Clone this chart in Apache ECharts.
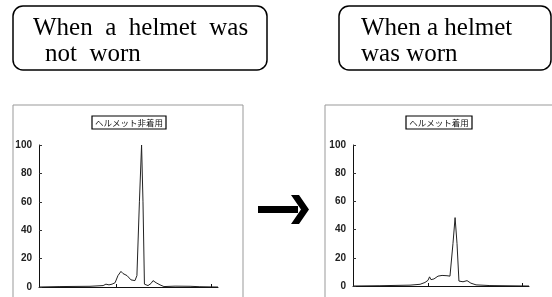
<!DOCTYPE html>
<html>
<head>
<meta charset="utf-8">
<style>
  html, body { margin: 0; padding: 0; background: #fff; }
  #chart { width: 552px; height: 297px; }
</style>
<script src="https://cdn.jsdelivr.net/npm/echarts@6/dist/echarts.min.js"></script>
</head>
<body>
<div id="chart"></div>
<script>
// y ticks (relative signal, %)
const yTicks = [0, 20, 40, 60, 80, 100]
// x positions are given as % of the time axis, tick marks at these spots
const xTickMarks = [43, 96]

// without helmet
const notWornX = [0, 11.7, 28.5, 35.8, 37.4, 39.1, 40.8, 42.5, 44.1, 45.8, 46.9, 48, 49.2, 50.3, 51.4, 52.5, 53.6, 54.7, 56.1, 57.3, 58.1, 58.9, 60.9, 62.6, 63.7, 65.4, 67.6, 69.8, 76, 84.4, 89.9, 100]
const notWornY = [0, 0.3, 0.5, 1, 2, 1.5, 2, 3, 8, 11, 9.5, 10, 8, 8.5, 5, 4, 4.5, 8, 60, 100, 60, 2, 1, 2.5, 4.5, 3, 1.5, 0.3, 0.6, 0.5, 0.2, 0]

// with helmet
const wornX = [0, 15.3, 32.4, 38.1, 40.9, 42.6, 43.5, 44.3, 46, 48.3, 50.6, 53.4, 55.1, 56.8, 58, 59.1, 60.2, 62.5, 64.8, 67, 69.9, 77.8, 100]
const wornY = [0, 0.2, 0.6, 1.2, 2.5, 4, 6.5, 4.5, 5, 7, 7.5, 7.3, 7, 30, 48.5, 30, 3.5, 3, 3.8, 2, 0.8, 0.3, 0]

const chart = echarts.init(document.getElementById('chart'))

function pairs(xs, ys) {
  return xs.map((x, i) => [x, ys[i]])
}

function makeX(idx) {
  return {
    type: 'value',
    gridIndex: idx,
    min: 0,
    max: 100,
    axisLine: { show: true, lineStyle: { color: '#111', width: 1 } },
    axisTick: { show: true, inside: true, length: 3, customValues: xTickMarks, lineStyle: { color: '#111' } },
    axisLabel: { show: false },
    splitLine: { show: false }
  }
}

function makeY(idx) {
  return {
    type: 'value',
    gridIndex: idx,
    min: 0,
    max: 100,
    interval: 20,
    axisLine: { show: true, lineStyle: { color: '#111', width: 1 } },
    axisTick: { show: true, inside: true, length: 3, lineStyle: { color: '#333' } },
    axisLabel: {
      color: '#222',
      fontSize: 10,
      fontWeight: 'bold',
      fontFamily: 'Liberation Sans, Arial, sans-serif',
      margin: 7,
      customValues: yTicks
    },
    splitLine: { show: false }
  }
}

const serif = 'Liberation Serif, Times New Roman, serif'
const jp = 'Noto Sans CJK JP, sans-serif'

const option = {
  animation: false,
  backgroundColor: '#fff',
  grid: [
    { left: 39, top: 145, width: 179, height: 142 },
    { left: 353, top: 145, width: 176, height: 141 }
  ],
  xAxis: [makeX(0), makeX(1)],
  yAxis: [makeY(0), makeY(1)],
  series: [
    {
      type: 'line',
      xAxisIndex: 0,
      yAxisIndex: 0,
      data: pairs(notWornX, notWornY),
      symbol: 'none',
      lineStyle: { color: '#222', width: 1 }
    },
    {
      type: 'line',
      xAxisIndex: 1,
      yAxisIndex: 1,
      data: pairs(wornX, wornY),
      symbol: 'none',
      lineStyle: { color: '#222', width: 1 }
    }
  ],
  graphic: [
    // caption boxes on top
    { type: 'rect', shape: { x: 13, y: 6, width: 254, height: 64, r: 10 }, style: { fill: 'none', stroke: '#000', lineWidth: 1.5 } },
    { type: 'text', x: 33, y: 28, style: { text: 'When  a  helmet  was', font: '25px ' + serif, fill: '#000', verticalAlign: 'middle' } },
    { type: 'text', x: 45, y: 54, style: { text: 'not  worn', font: '25px ' + serif, fill: '#000', verticalAlign: 'middle' } },
    { type: 'rect', shape: { x: 339, y: 6, width: 212, height: 64, r: 10 }, style: { fill: 'none', stroke: '#000', lineWidth: 1.5 } },
    { type: 'text', x: 361, y: 28, style: { text: 'When a helmet', font: '25px ' + serif, fill: '#000', verticalAlign: 'middle' } },
    { type: 'text', x: 361, y: 54, style: { text: 'was worn', font: '25px ' + serif, fill: '#000', verticalAlign: 'middle' } },

    // scanned panel frames
    { type: 'polyline', shape: { points: [[13, 297], [13, 105], [243, 105], [243, 297]] }, style: { fill: 'none', stroke: '#999', lineWidth: 1 } },
    { type: 'polyline', shape: { points: [[325, 297], [325, 105], [552, 105]] }, style: { fill: 'none', stroke: '#999', lineWidth: 1 } },

    // panel titles
    { type: 'rect', shape: { x: 92, y: 116, width: 74, height: 13 }, style: { fill: '#fff', stroke: '#000', lineWidth: 1.2 } },
    { type: 'text', x: 129, y: 122.5, style: { text: 'ヘルメット非着用', font: '8.5px ' + jp, fill: '#111', align: 'center', verticalAlign: 'middle' } },
    { type: 'rect', shape: { x: 406, y: 116, width: 66, height: 13 }, style: { fill: '#fff', stroke: '#000', lineWidth: 1.2 } },
    { type: 'text', x: 439, y: 122.5, style: { text: 'ヘルメット着用', font: '8.5px ' + jp, fill: '#111', align: 'center', verticalAlign: 'middle' } },

    // arrow between panels
    { type: 'rect', shape: { x: 258, y: 206, width: 40, height: 7 }, style: { fill: '#000' } },
    { type: 'polygon', shape: { points: [[291, 195], [299, 195], [309, 209.5], [299, 224], [291, 224], [301, 209.5]] }, style: { fill: '#000' } }
  ]
}

chart.setOption(option)
</script>
</body>
</html>
